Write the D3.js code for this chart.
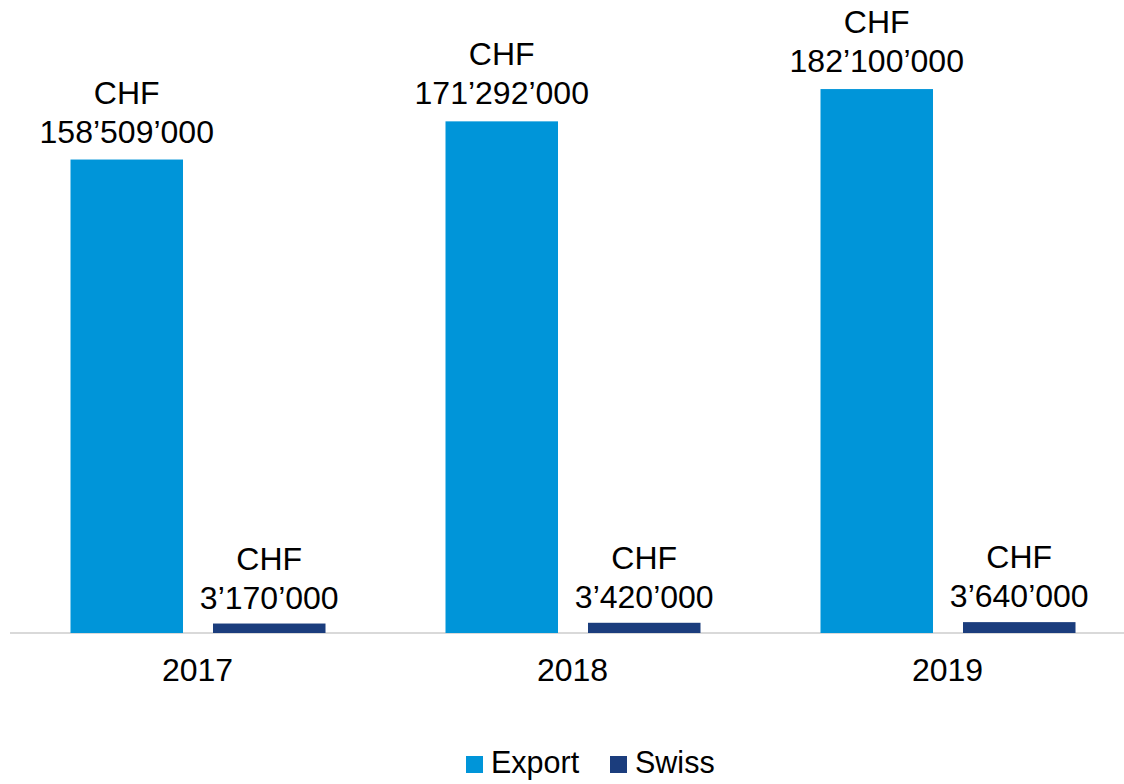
<!DOCTYPE html>
<html>
<head>
<meta charset="utf-8">
<script src="https://cdn.jsdelivr.net/npm/d3@7"></script>
<style>
  body { margin: 0; background: #fff; }
  text { font-family: "Liberation Sans", Arial, sans-serif; fill: #000; }
</style>
</head>
<body>
<svg id="chart" width="1124" height="784"></svg>
<script>
const years = ["2017", "2018", "2019"];
const seriesNames = ["Export", "Swiss"];
const exportValues = [158509000, 171292000, 182100000];
const swissValues = [3170000, 3420000, 3640000];
const colors = ["#0095d9", "#1b3d7d"];

const data = years.map((year, i) => ({
  year,
  values: [
    { key: "Export", value: exportValues[i] },
    { key: "Swiss", value: swissValues[i] },
  ],
}));

const svg = d3.select("#chart");
const baseY = 633;

const x0 = d3.scaleBand().domain(years).range([10.5, 1135.5]).padding(0);
const x1 = d3.scaleBand().domain(seriesNames).range([60, 315]).paddingInner(0.2105).paddingOuter(0);
// 2.987 px per million
const yScale = d3.scaleLinear().domain([0, 200000000]).range([baseY, baseY - 597.4]);
const color = d3.scaleOrdinal().domain(seriesNames).range(colors);

const fmt = (v) => d3.format(",")(v).replace(/,/g, "\u2019");

// axis line
svg.append("line")
  .attr("x1", 10).attr("x2", 1124)
  .attr("y1", baseY).attr("y2", baseY)
  .attr("stroke", "#d9d9d9").attr("stroke-width", 2);

const groups = svg.selectAll(".year")
  .data(data)
  .join("g")
  .attr("class", "year")
  .attr("transform", (d) => `translate(${x0(d.year)},0)`);

groups.selectAll("rect")
  .data((d) => d.values)
  .join("rect")
  .attr("x", (d) => x1(d.key))
  .attr("y", (d) => yScale(d.value))
  .attr("width", x1.bandwidth())
  .attr("height", (d) => baseY - yScale(d.value))
  .attr("fill", (d) => color(d.key));

const labels = groups.selectAll(".lbl")
  .data((d) => d.values)
  .join("text")
  .attr("class", "lbl")
  .attr("text-anchor", "middle")
  .attr("font-size", 32);

labels.append("tspan")
  .attr("x", (d) => x1(d.key) + x1.bandwidth() / 2)
  .attr("y", (d) => yScale(d.value) - (d.key === "Export" ? 56 : 54))
  .text("CHF");
labels.append("tspan")
  .attr("x", (d) => x1(d.key) + x1.bandwidth() / 2)
  .attr("y", (d) => yScale(d.value) - (d.key === "Export" ? 17 : 15))
  .text((d) => fmt(d.value));

// category labels
svg.selectAll(".cat")
  .data(years)
  .join("text")
  .attr("class", "cat")
  .attr("x", (d) => x0(d) + x0.bandwidth() / 2 - 0.5)
  .attr("y", 681)
  .attr("text-anchor", "middle")
  .attr("font-size", 32)
  .text((d) => d);

// legend
const legendX = [466, 610];
const legend = svg.selectAll(".legend")
  .data(seriesNames)
  .join("g")
  .attr("class", "legend")
  .attr("transform", (d, i) => `translate(${legendX[i]},756)`);

legend.append("rect")
  .attr("width", 17).attr("height", 17)
  .attr("fill", (d) => color(d));

legend.append("text")
  .attr("x", 25).attr("y", 17)
  .attr("font-size", 30.5)
  .text((d) => d);
</script>
</body>
</html>
